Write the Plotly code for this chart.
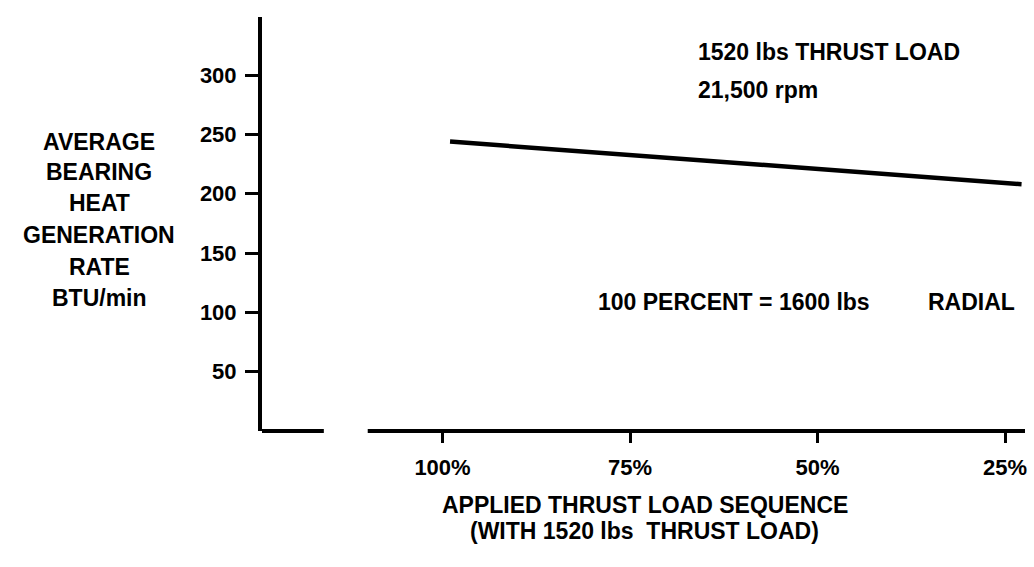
import plotly.graph_objects as go

# ---- data ----
load_pct = [99, 22.8]          # applied thrust load sequence (% of 1600 lbs radial)
heat_rate = [244, 208]         # average bearing heat generation rate, BTU/min
x_tick_vals = [100, 75, 50, 25]
x_tick_text = ["100%", "75%", "50%", "25%"]
y_tick_vals = [50, 100, 150, 200, 250, 300]
y_title_lines = ["AVERAGE", "BEARING", "HEAT", "GENERATION", "RATE", "BTU/min"]
x_title_lines = ["APPLIED THRUST LOAD SEQUENCE", "(WITH 1520 lbs  THRUST LOAD)"]
note_lines = ["1520 lbs THRUST LOAD", "21,500 rpm"]
radial_note = ["100 PERCENT = 1600 lbs", "RADIAL"]

FONT = "Liberation Sans, Arial, Helvetica, sans-serif"
FS_TICK = 22
FS_TEXT = 23

fig = go.Figure()
fig.add_trace(go.Scatter(
    x=load_pct, y=heat_rate, mode="lines",
    line=dict(color="black", width=4.5),
    hoverinfo="skip", showlegend=False,
))

W, H = 1034, 567
ml, mr, mt, mb = 262, 7, 17, 136
pw = W - ml - mr
ph = H - mt - mb

def px_x(px):
    return (px - ml) / pw

def px_y(py):
    return (H - mb - py) / ph

def txt_font(size):
    return dict(size=size, color="black", family=FONT, weight="bold")

annotations = []
# y-axis title, one annotation per line
y_title_y = [142, 172, 203, 235, 267, 298]
for txt, yy in zip(y_title_lines, y_title_y):
    annotations.append(dict(
        text=txt, xref="paper", yref="paper", x=px_x(99), y=px_y(yy),
        xanchor="center", yanchor="middle", showarrow=False,
        font=txt_font(FS_TEXT),
    ))
# x-axis title lines
for txt, yy in zip(x_title_lines, [505, 531]):
    annotations.append(dict(
        text=txt.replace(" ", "\u00a0"), xref="paper", yref="paper",
        x=px_x(646), y=px_y(yy),
        xanchor="center", yanchor="middle", showarrow=False,
        font=txt_font(FS_TEXT),
    ))
# top-right notes
for txt, yy in zip(note_lines, [52, 90]):
    annotations.append(dict(
        text=txt, xref="paper", yref="paper", x=px_x(697), y=px_y(yy),
        xanchor="left", yanchor="middle", showarrow=False,
        font=txt_font(FS_TEXT),
    ))
# radial load note: left part anchored left, "RADIAL" anchored right
annotations.append(dict(
    text=radial_note[0], xref="paper", yref="paper",
    x=px_x(597), y=px_y(302), xanchor="left", yanchor="middle", showarrow=False,
    font=txt_font(FS_TEXT),
))
annotations.append(dict(
    text=radial_note[1], xref="paper", yref="paper",
    x=px_x(1019), y=px_y(302), xanchor="right", yanchor="middle", showarrow=False,
    font=txt_font(FS_TEXT),
))

shapes = [
    dict(type="line", xref="paper", yref="paper", x0=0, x1=px_x(324), y0=0, y1=0,
         line=dict(color="black", width=4)),
    dict(type="line", xref="paper", yref="paper", x0=px_x(368), x1=1, y0=0, y1=0,
         line=dict(color="black", width=4)),
]

fig.update_layout(
    width=W, height=H,
    margin=dict(l=ml, r=mr, t=mt, b=mb),
    paper_bgcolor="white", plot_bgcolor="white",
    font=dict(family=FONT, size=FS_TICK, color="black", weight="bold"),
    showlegend=False,
    xaxis=dict(
        range=[124.07, 22.34], showgrid=False, zeroline=False, showline=False,
        tickmode="array", tickvals=x_tick_vals, ticktext=x_tick_text,
        ticks="outside", ticklen=11, tickwidth=3, tickcolor="black",
        tickfont=txt_font(FS_TICK),
        ticklabelstandoff=6,
    ),
    yaxis=dict(
        range=[0, 349], showgrid=False, zeroline=False,
        showline=True, linecolor="black", linewidth=4,
        tickmode="array", tickvals=y_tick_vals,
        ticks="outside", ticklen=13, tickwidth=3, tickcolor="black",
        tickfont=txt_font(FS_TICK),
        ticklabelstandoff=4,
    ),
    annotations=annotations,
    shapes=shapes,
)

fig.write_html("out.html", config={"displayModeBar": False})

# remove the browser's default body margin so the figure fills the window exactly
with open("out.html", "r", encoding="utf-8") as f:
    html = f.read()
html = html.replace("<head>", "<head><style>html,body{margin:0;padding:0;overflow:hidden;}</style>", 1)
with open("out.html", "w", encoding="utf-8") as f:
    f.write(html)
